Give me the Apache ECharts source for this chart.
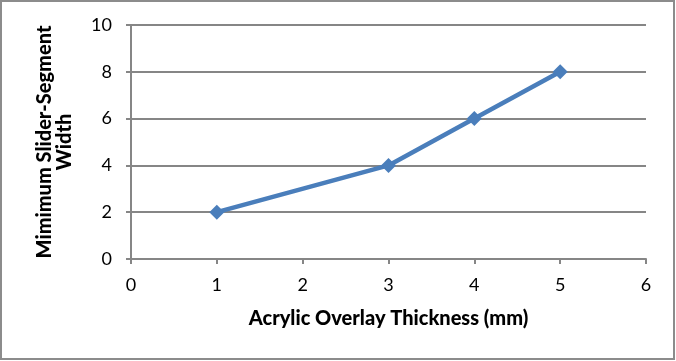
<!DOCTYPE html>
<html><head><meta charset="utf-8">
<script src="https://cdn.jsdelivr.net/npm/echarts@6/dist/echarts.min.js"></script>
<style>html,body{margin:0;padding:0;background:#fff}#c{width:676px;height:361px}</style>
</head><body><div id="c"></div>
<script>
const xValues = [1, 3, 4, 5];
const yValues = [2, 4, 6, 8];
const xTitle = 'Acrylic Overlay Thickness (mm)';
const yTitle = 'Mimimum Slider-Segment\nWidth';
const font = 'Lato, "Open Sans", sans-serif';
const chart = echarts.init(document.getElementById('c'));
chart.setOption({
  animation: false,
  backgroundColor: '#fff',
  grid: { left: 131, right: 30, top: 25, bottom: 102 },
  graphic: [{ type: 'rect', shape: { x: 1, y: 1, width: 673, height: 358 }, style: { fill: 'none', stroke: '#8c8c8c', lineWidth: 2 }, silent: true }],
  xAxis: {
    type: 'value', min: 0, max: 6, interval: 1,
    name: xTitle, nameLocation: 'middle', nameGap: 50,
    nameTextStyle: { fontFamily: font, fontSize: 20, fontWeight: 900, color: '#000' },
    axisLine: { show: true, lineStyle: { color: '#868686', width: 2 } },
    axisTick: { show: true, length: 5, lineStyle: { color: '#868686', width: 2 } },
    axisLabel: { fontFamily: font, fontSize: 18, color: '#000', margin: 17 },
    splitLine: { show: false }
  },
  yAxis: {
    type: 'value', min: 0, max: 10, interval: 2,
    name: yTitle, nameLocation: 'middle', nameGap: 56, nameRotate: 90,
    nameTextStyle: { fontFamily: font, fontSize: 20, fontWeight: 900, color: '#000', lineHeight: 20 },
    axisLine: { show: true, lineStyle: { color: '#868686', width: 2 } },
    axisTick: { show: true, length: 5, lineStyle: { color: '#868686', width: 2 } },
    axisLabel: { fontFamily: font, fontSize: 18, color: '#000', margin: 19 },
    splitLine: { show: true, lineStyle: { color: '#868686', width: 2 } }
  },
  series: [{
    type: 'line',
    data: xValues.map((x, i) => [x, yValues[i]]),
    symbol: 'diamond', symbolSize: 15,
    lineStyle: { color: '#4a7ebb', width: 4.5 },
    itemStyle: { color: '#4a7ebb' }
  }]
});
</script></body></html>
